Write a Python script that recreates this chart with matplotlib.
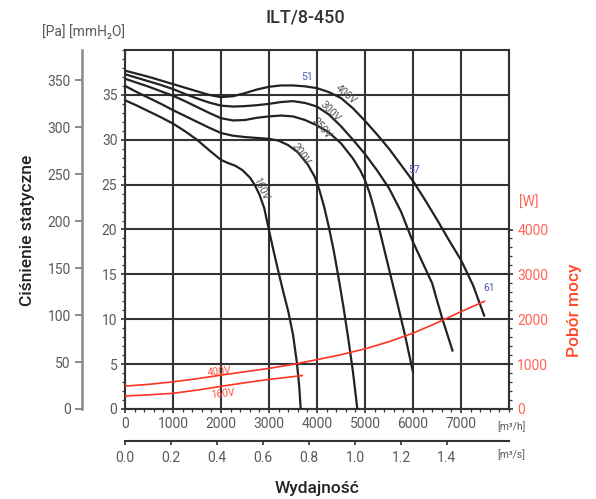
import matplotlib
matplotlib.use("Agg")
import matplotlib.pyplot as plt
from matplotlib.ticker import MultipleLocator, FixedLocator

plt.rcParams['font.family'] = ['Roboto', 'DejaVu Sans']

# fan curves: flow [m3/h] vs static pressure [mmH2O]
flow_400 = [0, 250, 500, 750, 1000, 1250, 1500, 1750, 2000, 2250, 2500, 2750, 3000, 3250, 3500,
            3750, 4000, 4250, 4500, 4750, 5000, 5250, 5500, 5750, 6000, 6250, 6500, 6750, 7000,
            7250, 7490]
pres_400 = [37.7, 37.35, 37.0, 36.6, 36.2, 35.8, 35.4, 35.0, 34.75, 34.85, 35.2, 35.6, 35.9, 36.05,
            36.05, 35.95, 35.75, 35.3, 34.65, 33.5, 32.1, 30.6, 29.0, 27.2, 25.4, 23.3, 21.1,
            18.8, 16.6, 13.8, 10.3]

flow_300 = [0, 250, 500, 750, 1000, 1250, 1500, 1750, 2000, 2250, 2500, 2750, 3000, 3250, 3500,
            3750, 4000, 4250, 4500, 4750, 5000, 5250, 5500, 5750, 6000, 6200, 6400, 6500, 6620,
            6830]
pres_300 = [37.3, 36.9, 36.5, 36.1, 35.65, 35.1, 34.6, 34.15, 33.8, 33.7, 33.75, 33.85, 34.0, 34.2,
            34.3, 34.1, 33.7, 32.8, 31.5, 30.0, 28.4, 26.6, 24.6, 22.0, 18.6, 16.3, 14.0, 12.1,
            9.9, 6.4]

flow_250 = [0, 250, 500, 750, 1000, 1250, 1500, 1750, 2000, 2250, 2500, 2750, 3000, 3250, 3500,
            3750, 4000, 4250, 4500, 4750, 4900, 5000, 5100, 5200, 5300, 5400, 5500, 5660, 5830,
            6000]
pres_250 = [36.8, 36.35, 35.9, 35.4, 34.9, 34.3, 33.65, 33.0, 32.4, 32.15, 32.2, 32.45, 32.6, 32.7,
            32.6, 32.2, 31.6, 30.8, 29.6, 27.9, 26.6, 25.5, 24.0, 22.1, 20.0, 17.8, 15.6, 12.1,
            8.3, 4.1]

flow_200 = [0, 250, 500, 750, 1000, 1250, 1500, 1750, 2000, 2250, 2500, 2750, 3000, 3200, 3400,
            3600, 3800, 3950, 4050, 4150, 4250, 4350, 4450, 4550, 4650, 4750, 4840]
pres_200 = [36.0, 35.3, 34.65, 34.0, 33.3, 32.65, 32.0, 31.35, 30.75, 30.45, 30.3, 30.2, 30.1, 29.9,
            29.4, 28.6, 27.3, 25.9, 24.4, 22.5, 20.2, 17.6, 14.6, 11.4, 7.9, 4.1, 0.0]

flow_160 = [0, 250, 500, 750, 1000, 1250, 1500, 1750, 2000, 2150, 2300, 2450, 2600, 2700, 2800,
            2900, 3000, 3100, 3200, 3300, 3400, 3500, 3580, 3630, 3660]
pres_160 = [34.4, 33.8, 33.15, 32.5, 31.8, 30.95, 30.0, 28.85, 27.75, 27.4, 27.1, 26.6, 25.8, 25.0,
            23.9, 22.4, 19.9, 17.5, 15.2, 13.0, 10.9, 8.3, 5.2, 2.5, 0.0]

# power draw [W]
pw_flow_400 = [0, 500, 1000, 1500, 2000, 2500, 3000, 3500, 4000, 4500, 5000, 5500, 6000, 6500,
               7000, 7490]
pw_400 = [510, 550, 605, 675, 755, 830, 905, 995, 1100, 1210, 1340, 1500, 1690, 1920, 2170, 2400]
pw_flow_160 = [0, 500, 1000, 1500, 2000, 2500, 3000, 3690]
pw_160 = [290, 315, 350, 420, 505, 585, 660, 745]

mm_ticks = [0, 5, 10, 15, 20, 25, 30, 35]
pa_ticks = [0, 50, 100, 150, 200, 250, 300, 350]
w_ticks = [0, 1000, 2000, 3000, 4000]
m3h_ticks = [0, 1000, 2000, 3000, 4000, 5000, 6000, 7000]
m3s_ticks = [0.0, 0.2, 0.4, 0.6, 0.8, 1.0, 1.2, 1.4]

GRID = '#333333'
GREY = '#5a5a5a'
RED = '#ff3322'
W, H = 596, 499

fig = plt.figure(figsize=(W / 100, H / 100), dpi=100)
ax = fig.add_axes([125 / W, 90 / H, 384 / W, 359 / H])

for fl, pr in [(flow_400, pres_400), (flow_300, pres_300), (flow_250, pres_250),
               (flow_200, pres_200), (flow_160, pres_160)]:
    ax.plot(fl, pr, color='#222222', lw=1.6, zorder=3, solid_capstyle='butt',
            solid_joinstyle='round')

ax.set_xlim(0, 8000)
ax.set_ylim(0, 40)
ax.set_xticks(m3h_ticks)
ax.set_yticks(mm_ticks)
ax.xaxis.set_minor_locator(MultipleLocator(200))
ax.yaxis.set_minor_locator(MultipleLocator(1))
ax.grid(which='major', color=GRID, lw=1.5, zorder=1)
for s in ax.spines.values():
    s.set_color(GRID)
    s.set_linewidth(1.5)
ax.tick_params(which='major', length=3, width=1.2, color=GRID, labelcolor=GREY,
               labelsize=10, pad=2.5)
ax.tick_params(which='minor', length=2.5, width=0.9, color=GRID)

# curve labels
lab_kw = dict(fontsize=7.5, color='#555555', ha='center', va='center', zorder=4)
ax.text(4600, 35.0, '400V', rotation=-40, **lab_kw)
ax.text(4285, 33.1, '300V', rotation=-45, **lab_kw)
ax.text(4100, 31.3, '250V', rotation=-50, **lab_kw)
ax.text(3660, 28.4, '200V', rotation=-55, **lab_kw)
ax.text(2840, 24.6, '160V', rotation=-65, **lab_kw)
blue_kw = dict(fontsize=7.5, color='#4a5ab8', ha='center', va='center')
ax.text(3800, 37.0, '51', **blue_kw)
ax.text(6020, 26.6, '57', **blue_kw)
ax.text(7590, 13.5, '61', **blue_kw)

# power axis
ax2 = ax.twinx()
ax2.plot(pw_flow_400, pw_400, color=RED, lw=1.2, solid_joinstyle='round')
ax2.plot(pw_flow_160, pw_160, color=RED, lw=1.2, solid_joinstyle='round')
ax2.set_ylim(0, 8000)
ax2.set_yticks(w_ticks)
ax2.yaxis.set_minor_locator(FixedLocator(list(range(0, 4001, 200))))
for side in ['left', 'top', 'bottom']:
    ax2.spines[side].set_visible(False)
ax2.spines['right'].set_color(GRID)
ax2.spines['right'].set_linewidth(1.5)
ax2.tick_params(which='major', length=3, width=1.2, color=GRID, labelcolor='#ff6655',
                labelsize=10, pad=3)
ax2.tick_params(which='minor', length=2, width=0.9, color=GRID)
ax2.text(1960, 840, '400V', fontsize=7.5, color='#ff5544', rotation=6, ha='center', va='center')
ax2.text(2030, 340, '160V', fontsize=7.5, color='#ff5544', rotation=6, ha='center', va='center')

# Pa axis
axp = fig.add_axes([82 / W, 90 / H, 0.002, 359 / H])
axp.set_ylim(0, 382)
axp.set_yticks(pa_ticks)
axp.set_xticks([])
axp.patch.set_visible(False)
for side in ['right', 'top', 'bottom']:
    axp.spines[side].set_visible(False)
axp.spines['left'].set_color('#8a8a8a')
axp.spines['left'].set_linewidth(1.8)
axp.tick_params(axis='y', length=5, width=1.4, color='#8a8a8a', labelcolor=GREY,
                labelsize=10, pad=3)

# m3/s axis
axs = fig.add_axes([125 / W, 58 / H, 384 / W, 0.002])
axs.set_xlim(0, 384 / 230)
axs.set_xticks(m3s_ticks)
axs.set_xticklabels(['%.1f' % v for v in m3s_ticks])
axs.set_yticks([])
axs.patch.set_visible(False)
for side in ['left', 'right', 'top']:
    axs.spines[side].set_visible(False)
axs.spines['bottom'].set_color(GRID)
axs.spines['bottom'].set_linewidth(1.5)
axs.tick_params(axis='x', length=3, width=1.2, color=GRID, labelcolor=GREY,
                labelsize=10, pad=4)

# texts
fig.text(305 / W, 1 - 17 / H, 'ILT/8-450', fontsize=13, color='#333333', ha='center',
         va='center', weight='medium')
fig.text(42 / W, 1 - 32 / H, '[Pa] [mmH\u2082O]', fontsize=10, color=GREY, ha='left', va='center')
fig.text(28 / W, 1 - 230 / H, 'Ciśnienie statyczne', fontsize=12.5, color='#222222',
         rotation=90, ha='center', va='center', weight='medium')
fig.text(317 / W, 1 - 488 / H, 'Wydajność', fontsize=12.5, color='#222222',
         ha='center', va='center', weight='medium')
fig.text(575 / W, 1 - 310 / H, 'Pobór mocy', fontsize=12.5, color='#ff4a2a',
         rotation=90, ha='center', va='center', weight='medium')
fig.text(529 / W, 1 - 203 / H, '[W]', fontsize=10, color='#ff6655', ha='center', va='center')
fig.text(511 / W, 1 - 427 / H, '[m\u00b3/h]', fontsize=7.5, color=GREY, ha='center', va='center')
fig.text(511 / W, 1 - 455 / H, '[m\u00b3/s]', fontsize=7.5, color=GREY, ha='center', va='center')

fig.savefig('out.png', dpi=100)
